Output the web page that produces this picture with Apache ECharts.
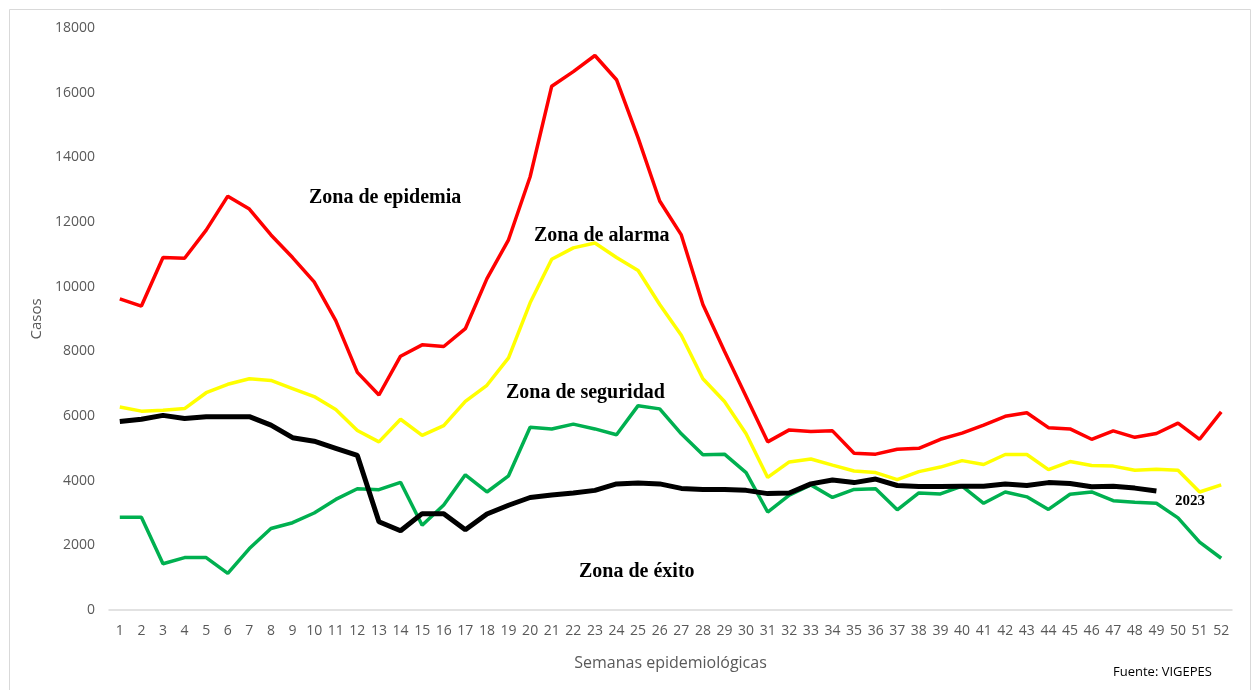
<!DOCTYPE html>
<html>
<head>
<meta charset="utf-8">
<script src="https://cdn.jsdelivr.net/npm/echarts@6/dist/echarts.min.js"></script>
<style>
  html, body { margin: 0; padding: 0; background: #fff; }
  #chart { width: 1256px; height: 690px; }
</style>
</head>
<body>
<div id="chart"></div>
<script>
// semanas epidemiológicas 1..52
const weeks = Array.from({ length: 52 }, (_, i) => String(i + 1));

// Zona de epidemia (rojo)
const epidemia = [9620, 9400, 10900, 10880, 11750, 12800, 12400, 11600, 10900, 10150,
  8950, 7350, 6650, 7850, 8200, 8150, 8700, 10250, 11450, 13400,
  16200, 16650, 17150, 16400, 14600, 12650, 11600, 9450, 8000, 6600,
  5200, 5570, 5520, 5540, 4850, 4820, 4970, 5000, 5280, 5470,
  5720, 5990, 6100, 5640, 5600, 5280, 5540, 5340, 5460, 5780,
  5280, 6130];

// Zona de alarma (amarillo)
const alarma = [6280, 6150, 6180, 6230, 6720, 6980, 7150, 7100, 6850, 6600,
  6200, 5550, 5200, 5900, 5400, 5700, 6450, 6950, 7800, 9500,
  10850, 11200, 11350, 10900, 10500, 9450, 8500, 7150, 6450, 5450,
  4100, 4580, 4670, 4480, 4300, 4250, 4030, 4280, 4420, 4620,
  4500, 4810, 4810, 4340, 4590, 4470, 4450, 4320, 4350, 4320,
  3650, 3870];

// Zona de seguridad (verde)
const seguridad = [2870, 2870, 1430, 1620, 1620, 1130, 1900, 2520, 2700, 3000,
  3420, 3750, 3720, 3950, 2620, 3250, 4180, 3650, 4150, 5650,
  5600, 5750, 5600, 5420, 6320, 6220, 5450, 4800, 4820, 4250,
  3030, 3550, 3870, 3480, 3730, 3750, 3100, 3620, 3590, 3830,
  3300, 3650, 3500, 3110, 3580, 3650, 3380, 3330, 3300, 2850,
  2100, 1600];

// 2023 (negro), hasta la semana 49
const casos2023 = [5830, 5900, 6020, 5920, 5980, 5980, 5980, 5720, 5330, 5220,
  5000, 4780, 2730, 2450, 2980, 2980, 2480, 2970, 3240, 3480,
  3560, 3620, 3700, 3900, 3930, 3900, 3760, 3730, 3730, 3700,
  3600, 3620, 3900, 4020, 3940, 4050, 3850, 3820, 3820, 3830,
  3830, 3900, 3850, 3940, 3910, 3810, 3830, 3770, 3680];

const zoneFont = { fontFamily: 'Liberation Serif', fontWeight: 'bold', fontSize: 20, fill: '#000' };

const chart = echarts.init(document.getElementById('chart'));

const lineSeries = (name, data, color, width) => ({
  name: name,
  type: 'line',
  data: data,
  symbol: 'none',
  lineStyle: { color: color, width: width },
  itemStyle: { color: color },
  z: width > 4 ? 5 : 3
});

chart.setOption({
  animation: false,
  backgroundColor: '#fff',
  grid: { left: 109, right: 24, top: 28, bottom: 80 },
  xAxis: {
    type: 'category',
    data: weeks,
    boundaryGap: true,
    name: 'Semanas epidemiológicas',
    nameLocation: 'middle',
    nameGap: 45,
    nameTextStyle: { color: '#595959', fontSize: 16, fontFamily: 'Open Sans' },
    axisLine: { lineStyle: { color: '#D9D9D9', width: 1.5 } },
    axisTick: { show: false },
    axisLabel: { color: '#595959', fontSize: 14, fontFamily: 'Open Sans', interval: 0, margin: 14 }
  },
  yAxis: {
    type: 'value',
    min: 0,
    max: 18000,
    interval: 2000,
    name: 'Casos',
    nameLocation: 'middle',
    nameGap: 58,
    nameTextStyle: { color: '#595959', fontSize: 15, fontFamily: 'Open Sans' },
    axisLine: { show: false },
    axisTick: { show: false },
    splitLine: { show: false },
    axisLabel: { color: '#595959', fontSize: 14, fontFamily: 'Open Sans', margin: 14, formatter: v => String(v) }
  },
  series: [
    lineSeries('Zona de epidemia', epidemia, '#FF0000', 3.5),
    lineSeries('Zona de alarma', alarma, '#FFFF00', 3.5),
    lineSeries('Zona de seguridad', seguridad, '#00B050', 3.5),
    lineSeries('2023', casos2023, '#000000', 5)
  ],
  graphic: [
    { type: 'rect', left: 7, top: 7, shape: { width: 1241, height: 681 }, style: { fill: 'none', stroke: '#D9D9D9', lineWidth: 1 }, silent: true },
    { type: 'text', left: 309, top: 188, style: Object.assign({ text: 'Zona de epidemia' }, zoneFont) },
    { type: 'text', left: 534, top: 226, style: Object.assign({ text: 'Zona de alarma' }, zoneFont) },
    { type: 'text', left: 506, top: 383, style: Object.assign({ text: 'Zona de seguridad' }, zoneFont) },
    { type: 'text', left: 579, top: 562, style: Object.assign({ text: 'Zona de éxito' }, zoneFont) },
    { type: 'text', left: 1175, top: 494, style: { text: '2023', fontFamily: 'Liberation Serif', fontWeight: 'bold', fontSize: 15, fill: '#000' } },
    { type: 'text', left: 1113, top: 666, style: { text: 'Fuente: VIGEPES', fontFamily: 'Open Sans', fontSize: 13, fill: '#000' } }
  ]
});
</script>
</body>
</html>
